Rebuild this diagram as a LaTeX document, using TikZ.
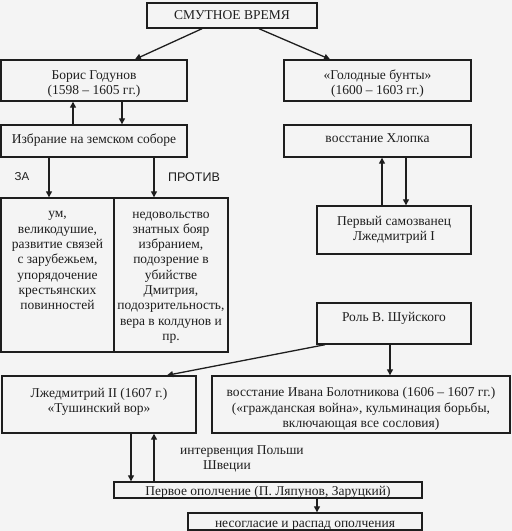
\documentclass[tikz,border=0pt]{standalone}
\usepackage{fontspec}
\setmainfont{Liberation Serif}
\newfontfamily\labsans{Liberation Sans}
\usetikzlibrary{arrows.meta,calc}
\definecolor{bgc}{HTML}{F4F4F4}
\definecolor{ink}{HTML}{1E1E1E}
\begin{document}
\begin{tikzpicture}[x=1pt,y=-1pt,
  box/.style={draw=ink,fill=bgc,line width=1.4pt,inner sep=0pt,align=center,
    font=\fontsize{13.5}{15.3}\selectfont,text=ink},
  txt/.style={inner sep=0pt,align=center,font=\fontsize{13.5}{15.3}\selectfont,text=ink},
  conn/.style={draw=ink,line width=1.3pt},
  arr/.style={conn,-{Triangle[length=6pt,width=6pt]}}]
\fill[bgc] (0,0) rectangle (512,531);
\useasboundingbox (0,0) rectangle (512,531);
% boxes
\node[box,minimum width=170pt,minimum height=25pt] (top) at (232,15.5) {СМУТНОЕ ВРЕМЯ};
\node[box,minimum width=186pt,minimum height=41pt,text height=31.5pt] (boris) at (94,80.5) {Борис Годунов\\(1598 -- 1605 гг.)};
\node[box,minimum width=187pt,minimum height=41pt,text height=31.5pt] (golod) at (377.5,80.5) {«Голодные бунты»\\(1600 -- 1603 гг.)};
\node[box,minimum width=186pt,minimum height=32pt,text depth=5pt] (izbr) at (94,141) {Избрание на земском соборе};
\node[box,minimum width=187pt,minimum height=32pt,text depth=5pt] (hlop) at (377.5,141) {восстание Хлопка};
\node[box,minimum width=113pt,minimum height=154pt] (pro) at (57.5,275) {};
\node[box,minimum width=114pt,minimum height=154pt] (con) at (171,275) {};
\node[txt,anchor=north] (protxt) at (57.5,211.5) {ум,\\великодушие,\\развитие связей\\с зарубежьем,\\упорядочение\\крестьянских\\повинностей};
\node[txt,anchor=north] (context) at (171,211.5) {недовольство\\знатных бояр\\избранием,\\подозрение в\\убийстве\\Дмитрия,\\подозрительность,\\вера в колдунов и\\пр.};
\node[box,minimum width=154pt,minimum height=48pt] (samoz) at (394,230) {Первый самозванец\\Лжедмитрий I};
\node[box,minimum width=154pt,minimum height=41pt,text depth=14pt] (shui) at (394,323.5) {Роль В. Шуйского};
\node[box,minimum width=194pt,minimum height=57pt,text depth=9pt] (ld2) at (99,404.5) {Лжедмитрий II (1607 г.)\\«Тушинский вор»};
\node[box,minimum width=298pt,minimum height=57pt,text height=49pt] (bolot) at (361,404.5) {восстание Ивана Болотникова (1606 -- 1607 гг.)\\(«гражданская война», кульминация борьбы,\\включающая все сословия)};
\node[box,minimum width=308pt,minimum height=16pt,text height=11pt,text depth=1pt] (perv) at (268,490) {Первое ополчение (П. Ляпунов, Заруцкий)};
\node[box,minimum width=234pt,minimum height=17pt,text height=13pt,text depth=1pt] (nesog) at (305,521.5) {несогласие и распад ополчения};
% labels
\node[inner sep=0pt,font=\labsans\fontsize{11.5}{14}\selectfont,text=ink] (za) at (22,177) {ЗА};
\node[inner sep=0pt,font=\labsans\fontsize{12.5}{14}\selectfont,text=ink] (protiv) at (194,177) {ПРОТИВ};
\node[txt,align=left,anchor=north west] (interv) at (180,445) {интервенция Польши\\\hspace*{23pt}Швеции};
% connectors
\draw[arr] ([xshift=-30pt]top.south) -- ([xshift=41pt]boris.north);
\draw[arr] ([xshift=27pt]top.south) -- ([xshift=-47.5pt]golod.north);
\coordinate (bu) at ([xshift=-21pt]izbr.north);
\coordinate (bd) at ([xshift=28pt]boris.south);
\draw[arr] (bu) -- (bu |- boris.south);
\draw[arr] (bd) -- (bd |- izbr.north);
\coordinate (zaS) at ([xshift=-45pt]izbr.south);
\coordinate (prS) at ([xshift=60pt]izbr.south);
\draw[arr] (zaS) -- (zaS |- pro.north);
\draw[arr] (prS) -- (prS |- con.north);
\coordinate (hu) at ([xshift=-12pt]samoz.north);
\coordinate (hd) at ([xshift=12pt]samoz.north);
\draw[arr] (hu) -- (hu |- hlop.south);
\draw[arr] (hd |- hlop.south) -- (hd);
\draw[arr] ([xshift=-69pt]shui.south) -- ([xshift=68pt]ld2.north);
\coordinate (sb) at ([xshift=-4pt]shui.south);
\draw[arr] (sb) -- (sb |- bolot.north);
\coordinate (ld) at ([xshift=32pt]ld2.south);
\coordinate (lu) at ([xshift=55pt]ld2.south);
\draw[arr] (ld) -- (ld |- perv.north);
\draw[arr] (lu |- perv.north) -- (lu);
\coordinate (pn) at ([xshift=12pt]nesog.north);
\draw[arr] (pn |- perv.south) -- (pn);
\end{tikzpicture}
\end{document}
